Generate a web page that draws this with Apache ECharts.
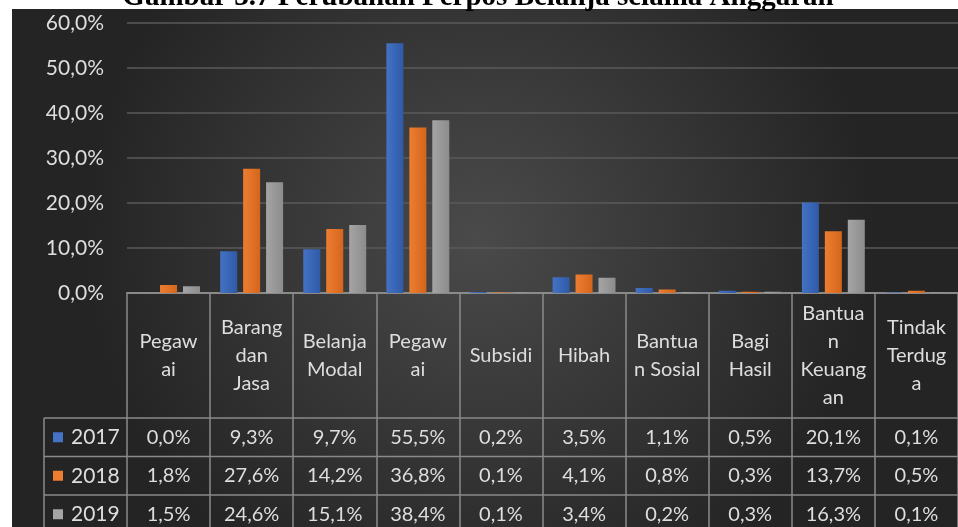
<!DOCTYPE html>
<html lang="id">
<head>
    <meta charset="UTF-8">
    <title>Perubahan Perpos Belanja</title>
    <script src="https://cdn.jsdelivr.net/npm/echarts@6/dist/echarts.min.js"></script>
    <style>
        html, body { margin: 0; padding: 0; background: #fff; }
    </style>
</head>
<body>
<div style="width: 958px; height: 527px" id="main"></div>

<script type="text/javascript">
    // data
    var categories = ['Pegaw\nai', 'Barang\ndan\nJasa', 'Belanja\nModal', 'Pegaw\nai', 'Subsidi',
        'Hibah', 'Bantua\nn Sosial', 'Bagi\nHasil', 'Bantua\nn\nKeuang\nan', 'Tindak\nTerdug\na'];
    var years = ['2017', '2018', '2019'];
    var values2017 = [0.0, 9.3, 9.7, 55.5, 0.2, 3.5, 1.1, 0.5, 20.1, 0.1];
    var values2018 = [1.8, 27.6, 14.2, 36.8, 0.1, 4.1, 0.8, 0.3, 13.7, 0.5];
    var values2019 = [1.5, 24.6, 15.1, 38.4, 0.1, 3.4, 0.2, 0.3, 16.3, 0.1];
    var seriesValues = [values2017, values2018, values2019];
    var titleText = 'Gambar 3.7 Perubahan Perpos Belanja selama Anggaran';

    var colors = ['#4472C4', '#ED7D31', '#A5A5A5'];
    var darker = ['#2f5aa8', '#d4661c', '#8c8c8c'];
    var textColor = '#dedede';
    var lineColor = '#8a8a8a';
    var font = 'Lato';

    function pct(v) {
        return v.toFixed(1).replace('.', ',') + '%';
    }

    var myChart = echarts.init(document.getElementById('main'));

    var option = {
        backgroundColor: {
            type: 'radial', x: 0.5, y: 0.45, r: 0.75,
            colorStops: [
                { offset: 0, color: '#4a4a4a' },
                { offset: 1, color: '#242424' }
            ]
        },
        animation: false,
        grid: { left: 127, right: -6, top: 23, bottom: 234 },
        xAxis: {
            type: 'category',
            data: categories,
            axisLine: { lineStyle: { color: lineColor, width: 2 } },
            axisTick: { show: true, length: 240, lineStyle: { color: lineColor, width: 1.5 } },
            axisLabel: { show: false }
        },
        yAxis: {
            type: 'value',
            min: 0, max: 60, interval: 10,
            axisLine: { show: false },
            axisTick: { show: false },
            splitLine: { lineStyle: { color: '#5a5a5a', width: 1.5 } },
            axisLabel: {
                color: textColor, fontFamily: font, fontSize: 21, margin: 23,
                formatter: function (v) { return pct(v); }
            }
        },
        series: years.map(function (y, i) {
            return {
                name: y,
                type: 'bar',
                data: seriesValues[i],
                barWidth: 17,
                barGap: '35%',
                itemStyle: {
                    color: {
                        type: 'linear', x: 0, y: 0, x2: 1, y2: 0,
                        colorStops: [
                            { offset: 0, color: colors[i] },
                            { offset: 1, color: darker[i] }
                        ]
                    }
                }
            };
        })
    };
    myChart.setOption(option);

    // data table under the plot, laid out from the category axis
    var headerTop = 293, headerBottom = 418, rowH = 38.5;
    var c0 = myChart.convertToPixel({ xAxisIndex: 0 }, 0);
    var c1 = myChart.convertToPixel({ xAxisIndex: 0 }, 1);
    var band = c1 - c0;
    var leftX = 44, rightX = c0 - band / 2 + band * categories.length;
    var els = [];

    // horizontal lines
    for (var r = 0; r < 3; r++) {
        var yy = headerBottom + rowH * r;
        els.push({
            type: 'line', z: 50,
            shape: { x1: leftX, y1: yy, x2: rightX, y2: yy },
            style: { stroke: lineColor, lineWidth: 1.5 }
        });
    }
    els.push({
        type: 'line', z: 50,
        shape: { x1: leftX, y1: headerBottom, x2: leftX, y2: 527 },
        style: { stroke: lineColor, lineWidth: 1.5 }
    });

    // header labels and cell values
    categories.forEach(function (c, i) {
        var cx = myChart.convertToPixel({ xAxisIndex: 0 }, i);
        els.push({
            type: 'text', z: 50, x: cx, y: (headerTop + headerBottom) / 2,
            style: {
                text: c, fill: textColor, font: '20px ' + font,
                align: 'center', verticalAlign: 'middle', lineHeight: 28
            }
        });
        seriesValues.forEach(function (vals, s) {
            els.push({
                type: 'text', z: 50, x: cx, y: headerBottom + rowH * s + rowH / 2,
                style: {
                    text: pct(vals[i]), fill: textColor, font: '20px ' + font,
                    align: 'center', verticalAlign: 'middle'
                }
            });
        });
    });

    // legend keys and year labels
    years.forEach(function (y, s) {
        var cy = headerBottom + rowH * s + rowH / 2;
        els.push({
            type: 'rect', z: 50,
            shape: { x: 53, y: cy - 5, width: 10, height: 10 },
            style: { fill: colors[s] }
        });
        els.push({
            type: 'text', z: 50, x: 71, y: cy,
            style: {
                text: y, fill: textColor, font: '21px ' + font,
                align: 'left', verticalAlign: 'middle'
            }
        });
    });

    // white page margins and the clipped caption
    els.push({
        type: 'rect', z: 90,
        shape: { x: 0, y: 0, width: 958, height: 9 },
        style: { fill: '#ffffff' }
    });
    els.push({
        type: 'rect', z: 90,
        shape: { x: 0, y: 0, width: 12, height: 527 },
        style: { fill: '#ffffff' }
    });
    els.push({
        type: 'text', z: 95, x: 478, y: -2,
        style: {
            text: titleText, fill: '#000000', font: 'bold 29px "Liberation Serif"',
            align: 'center', verticalAlign: 'middle'
        }
    });

    myChart.setOption({ graphic: els });
</script>
</body>
</html>
